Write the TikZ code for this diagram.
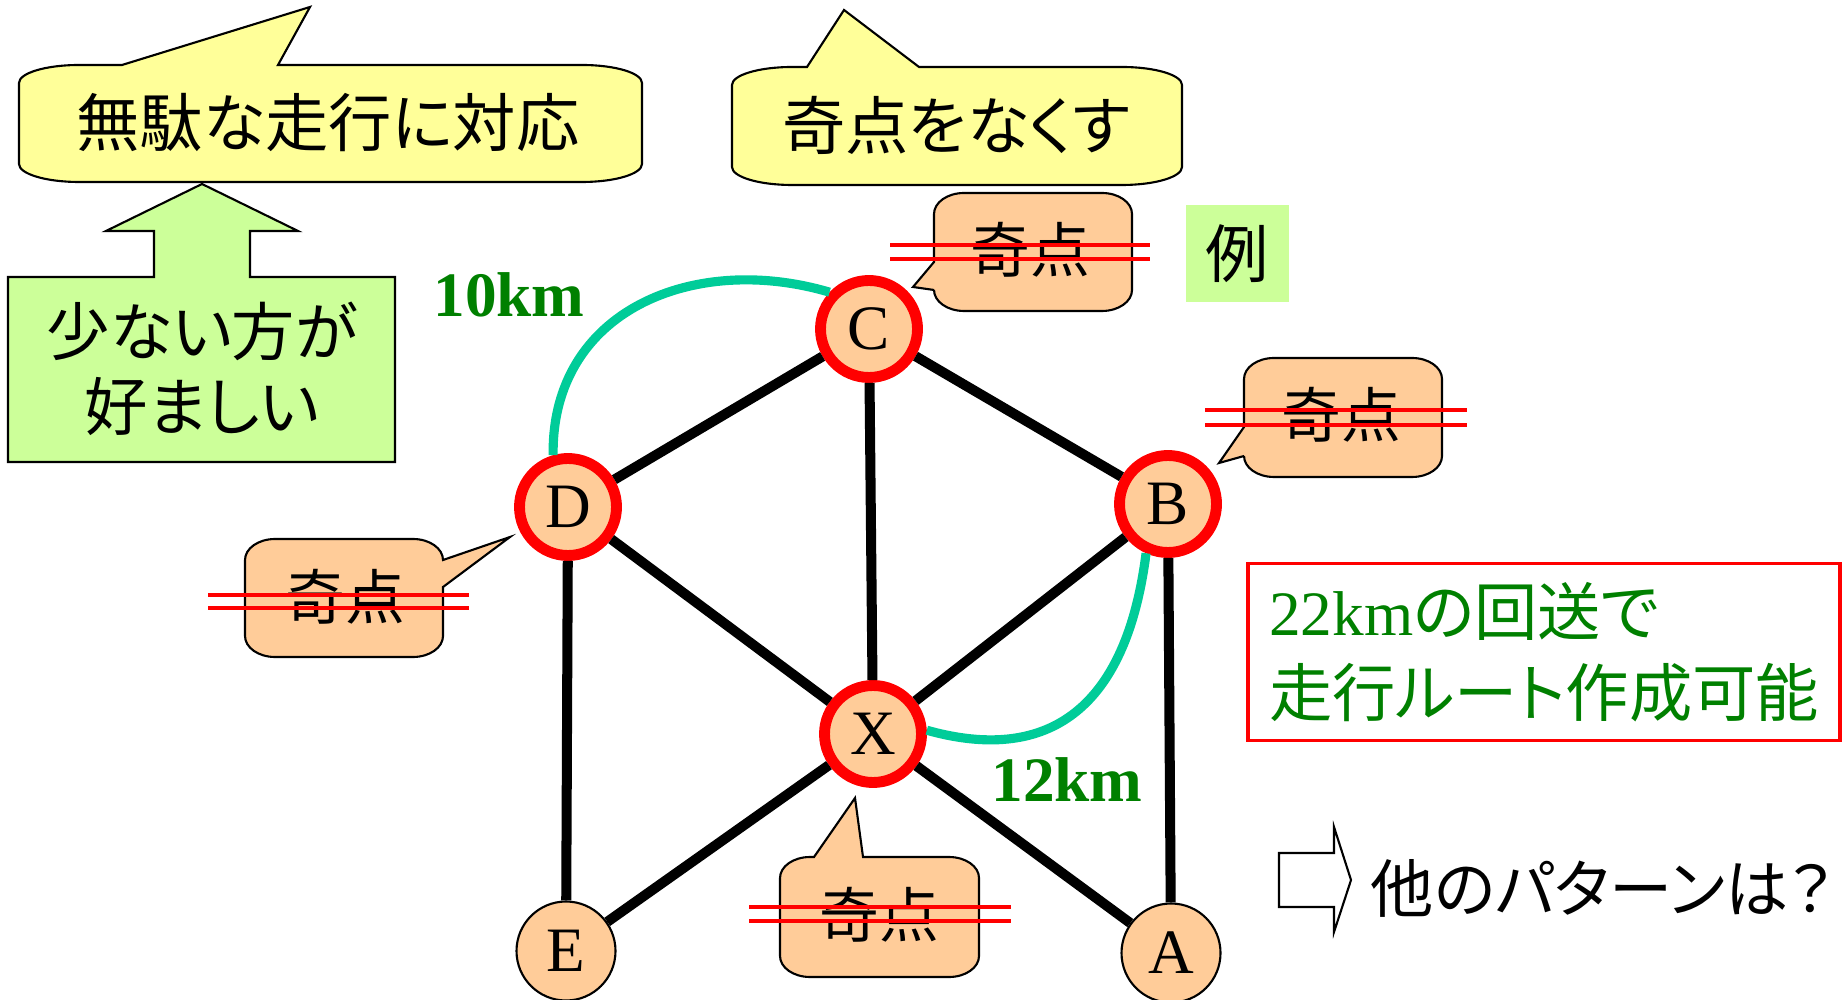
\documentclass[tikz,border=0pt]{standalone}
\usepackage{fontspec}
\setmainfont{Liberation Serif}
\newfontfamily\jp{Noto Sans CJK JP}[RawFeature={+palt}]
\usepackage{xcolor}
\usetikzlibrary{positioning}
\definecolor{nodepeach}{RGB}{255,204,153}
\definecolor{bubyellow}{RGB}{255,255,153}
\definecolor{boxgreen}{RGB}{204,255,153}
\definecolor{routeteal}{RGB}{0,204,153}
\definecolor{kmgreen}{RGB}{0,128,0}
\tikzset{oddpt/.style={circle, draw=red, line width=3.1pt, fill=nodepeach, minimum size=0.97cm, inner sep=0pt, font=\fontsize{18}{18}\selectfont}}
\tikzset{evenpt/.style={circle, draw=black, line width=0.6pt, fill=nodepeach, minimum size=0.99cm, inner sep=0pt, font=\fontsize{18}{18}\selectfont}}
\tikzset{road/.style={draw=black, line width=2.85pt}}
\tikzset{detour/.style={draw=routeteal, line width=2.6pt}}
\tikzset{km/.style={text=kmgreen, inner sep=0pt, font=\bfseries\fontsize{18}{18}\selectfont}}
\tikzset{bubble/.style={draw=black, line width=0.6pt, fill=bubyellow}}
\tikzset{tag/.style={draw=black, line width=0.6pt, fill=nodepeach}}
\tikzset{strike/.style={draw=red, line width=1pt}}
\tikzset{jtext/.style={inner sep=0pt, font=\jp\fontsize{18}{18}\selectfont}}
\tikzset{oddtext/.style={inner sep=0pt, font=\jp\fontsize{17}{17}\selectfont}}

\begin{document}
\begin{tikzpicture}
    \useasboundingbox (0,0) rectangle (18.43,9.99);
    % speech bubbles at the top
    \draw[bubble] (0.79,9.34) -- (1.22,9.34) -- (3.10,9.92) -- (2.78,9.34) -- (5.82,9.34)
        arc (90:0:0.6 and 0.18) -- (6.42,8.35) arc (0:-90:0.6 and 0.18) -- (0.79,8.17)
        arc (270:180:0.6 and 0.18) -- (0.19,9.16) arc (180:90:0.6 and 0.18) -- cycle;
    \node[jtext] (waste) at (3.28,8.76) {無駄な走行に対応};
    \draw[bubble] (7.92,9.32) -- (8.07,9.32) -- (8.44,9.89) -- (9.19,9.32) -- (11.22,9.32)
        arc (90:0:0.6 and 0.18) -- (11.82,8.32) arc (0:-90:0.6 and 0.18) -- (7.92,8.14)
        arc (270:180:0.6 and 0.18) -- (7.32,9.14) arc (180:90:0.6 and 0.18) -- cycle;
    \node[jtext] (noodd) at (9.56,8.74) {奇点をなくす};
    % up arrow
    \draw[draw=black, line width=0.6pt, fill=boxgreen] (0.08,5.37) -- (3.95,5.37) -- (3.95,7.22)
        -- (2.50,7.22) -- (2.50,7.68) -- (2.98,7.68) -- (2.02,8.15) -- (1.06,7.68)
        -- (1.54,7.68) -- (1.54,7.22) -- (0.08,7.22) -- cycle;
    \node[jtext, align=center, font=\jp\fontsize{18}{21.5}\selectfont] (prefer) at (2.02,6.30) {少ない方が\\好ましい};
    \node[jtext, fill=boxgreen, minimum width=1.03cm, minimum height=0.97cm] (rei) at (12.37,7.45) {例};
    % graph
    \node[oddpt] (C) at (8.69,6.70) {C};
    \node[oddpt] (D) at (5.68,4.92) {D};
    \node[oddpt] (B) at (11.68,4.95) {B};
    \node[oddpt] (X) at (8.73,2.65) {X};
    \node[evenpt] (E) at (5.66,0.48) {E};
    \node[evenpt] (A) at (11.71,0.46) {A};
    \foreach \a/\b in {C/D, C/B, C/X, D/X, D/E, B/X, B/A, X/E, X/A}
        \draw[road] (\a) -- (\b);
    \draw[detour] (D.106) .. controls +(-0.02,1.45) and +(-1.35,0.40) .. (C.137);
    \draw[detour] (B.246) .. controls +(-0.22,-1.72) and +(1.07,-0.30) .. (X.4);
    \node[km] (kmDC) at (5.09,7.04) {10km};
    \node[km] (kmBX) at (10.67,2.19) {12km};
    % odd point tags
    \draw[tag] (9.64,8.06) -- (11.02,8.06) arc (90:0:0.3 and 0.21) -- (11.32,7.09)
        arc (0:-90:0.3 and 0.21) -- (9.64,6.88) arc (270:180:0.3 and 0.21) -- (9.34,7.09)
        -- (9.13,7.12) -- (9.34,7.37) -- (9.34,7.85) arc (180:90:0.3 and 0.21) -- cycle;
    \node[oddtext] (kC) at (10.30,7.49) {奇点};
    \draw[strike] (8.90,7.54) -- (11.50,7.54);
    \draw[strike] (8.90,7.40) -- (11.50,7.40);
    \draw[tag] (12.74,6.41) -- (14.12,6.41) arc (90:0:0.3 and 0.21) -- (14.42,5.43)
        arc (0:-90:0.3 and 0.21) -- (12.74,5.22) arc (270:180:0.3 and 0.21) -- (12.44,5.43)
        -- (12.19,5.36) -- (12.44,5.72) -- (12.44,6.20) arc (180:90:0.3 and 0.21) -- cycle;
    \node[oddtext] (kB) at (13.41,5.84) {奇点};
    \draw[strike] (12.05,5.89) -- (14.67,5.89);
    \draw[strike] (12.05,5.74) -- (14.67,5.74);
    \draw[tag] (2.75,4.60) -- (4.13,4.60) arc (90:0:0.3 and 0.21) -- (5.10,4.62) -- (4.43,4.12)
        -- (4.43,3.63) arc (0:-90:0.3 and 0.21) -- (2.75,3.42) arc (270:180:0.3 and 0.21)
        -- (2.45,4.39) arc (180:90:0.3 and 0.21) -- cycle;
    \node[oddtext] (kD) at (3.45,4.02) {奇点};
    \draw[strike] (2.08,4.04) -- (4.69,4.04);
    \draw[strike] (2.08,3.91) -- (4.69,3.91);
    \draw[tag] (8.10,1.42) -- (8.14,1.42) -- (8.55,2.01) -- (8.63,1.42) -- (9.49,1.42)
        arc (90:0:0.3 and 0.21) -- (9.79,0.43) arc (0:-90:0.3 and 0.21) -- (8.10,0.22)
        arc (270:180:0.3 and 0.21) -- (7.80,1.21) arc (180:90:0.3 and 0.21) -- cycle;
    \node[oddtext] (kX) at (8.79,0.84) {奇点};
    \draw[strike] (7.49,0.92) -- (10.11,0.92);
    \draw[strike] (7.49,0.78) -- (10.11,0.78);
    % result
    \node[draw=red, line width=1pt, minimum width=5.92cm, minimum height=1.77cm, align=left,
        text=kmgreen, font=\fontsize{18}{23}\selectfont] (route) at (15.44,3.47)
        {22km{\jp の回送で}\\{\jp 走行ルート作成可能}};
    \draw[draw=black, line width=0.6pt, fill=white] (12.79,1.46) -- (13.34,1.46) -- (13.34,1.72)
        -- (13.51,1.19) -- (13.34,0.67) -- (13.34,0.92) -- (12.79,0.92) -- cycle;
    \node[jtext, anchor=west] (other) at (13.70,1.11) {他のパターンは？};
\end{tikzpicture}
\end{document}
